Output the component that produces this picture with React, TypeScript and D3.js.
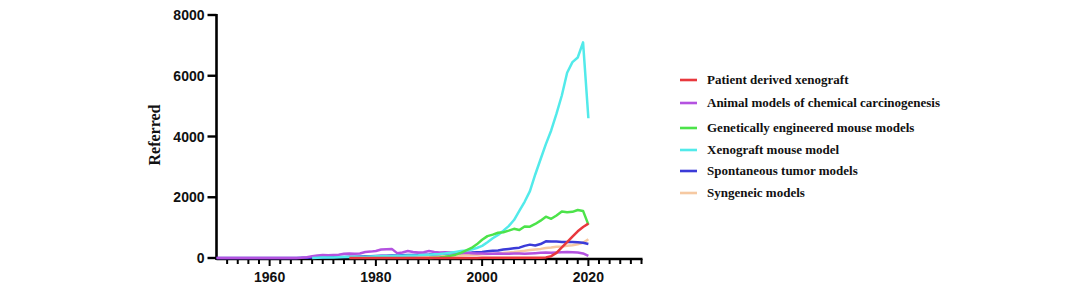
import React from "react";
import * as d3 from "d3";

// ---- data ----
const seriesNames = [
  "Patient derived xenograft",
  "Animal models of chemical carcinogenesis",
  "Genetically engineered mouse models",
  "Xenograft mouse model",
  "Spontaneous tumor models",
  "Syngeneic models",
];
const seriesColors = ["#e8383d", "#b452e0", "#4ce34a", "#52eaea", "#3b3bd8", "#f6c9a2"];

// start years per series
const startYears = [1975, 1950, 1990, 1968, 1950, 1985];

const pdxValues = [
  0, 0, 0, 0, 0, 0, 0, 0, 0, 0, // 1975-1984
  0, 0, 0, 0, 0, 0, 0, 0, 0, 0, // 1985-1994
  0, 0, 0, 0, 0, 5, 5, 5, 5, 10, // 1995-2004
  10, 10, 10, 10, 10, 10, 10, 20, 60, 170, // 2005-2014
  350, 520, 700, 880, 1020, 1130, // 2015-2020
];
const chemValues = [
  0, 0, 0, 0, 0, 0, 0, 0, 0, 0, // 1950-1959
  0, 0, 0, 0, 0, 0, 5, 25, 60, 85, // 1960-1969
  95, 90, 100, 110, 140, 150, 140, 150, 200, 210, // 1970-1979
  230, 280, 290, 300, 160, 180, 230, 200, 180, 190, // 1980-1989
  230, 200, 180, 190, 180, 170, 160, 170, 160, 150, // 1990-1999
  150, 140, 140, 150, 140, 140, 150, 150, 140, 150, // 2000-2009
  160, 170, 180, 170, 180, 190, 200, 190, 180, 150, // 2010-2019
  70, // 2020
];
const gemmValues = [
  0, 10, 20, 40, 70, 110, 170, 250, 330, 450, // 1990-1999
  600, 720, 770, 830, 850, 900, 960, 920, 1040, 1030, // 2000-2009
  1120, 1230, 1360, 1290, 1400, 1530, 1510, 1520, 1580, 1550, // 2010-2019
  1100, // 2020
];
const xenoValues = [
  0, 10, 15, 20, 20, 25, 30, // 1968-1974
  35, 40, 40, 45, 50, 55, 60, 60, 65, 70, // 1975-1984
  75, 80, 85, 90, 100, 110, 120, 130, 150, 170, // 1985-1994
  200, 230, 250, 280, 330, 400, 520, 650, 760, 900, // 1995-2004
  1050, 1250, 1550, 1850, 2200, 2750, 3250, 3750, 4200, 4750, // 2005-2014
  5350, 6100, 6450, 6600, 7100, 4600, // 2015-2020
];
const spontValues = [
  0, 0, 0, 0, 0, 0, 0, 0, 0, 0, // 1950-1959
  0, 0, 0, 0, 0, 0, 5, 10, 15, 20, // 1960-1969
  20, 25, 30, 30, 35, 40, 45, 50, 55, 60, // 1970-1979
  65, 70, 75, 80, 85, 90, 95, 100, 105, 110, // 1980-1989
  115, 125, 135, 145, 155, 165, 170, 175, 180, 190, // 1990-1999
  200, 220, 235, 250, 280, 300, 320, 340, 400, 440, // 2000-2009
  410, 460, 550, 540, 540, 530, 530, 525, 520, 500, // 2010-2019
  460, // 2020
];
const syngValues = [
  10, 20, 25, 30, 35, 40, 45, 55, 60, 70, // 1985-1994
  80, 90, 100, 105, 110, 120, 130, 140, 150, 165, // 1995-2004
  180, 195, 215, 235, 260, 280, 300, 330, 345, 370, // 2005-2014
  380, 400, 420, 450, 500, 620, // 2015-2020
];
const seriesValues = [pdxValues, chemValues, gemmValues, xenoValues, spontValues, syngValues];

const yTicks = [0, 2000, 4000, 6000, 8000];
const xMajorTicks = [1960, 1980, 2000, 2020];
const yLabel = "Referred";

// ---- layout ----
const W = 1080;
const H = 290;
const X0 = 216.5;
const X1 = 641.5;
const Y0 = 259;
const Y1 = 15;
const legendRowY = [80, 103, 128, 150, 171, 193];
const legendX = 680;
const drawOrder = [5, 4, 1, 3, 2, 0];

export default function App() {
  const x = d3.scaleLinear().domain([1950, 2030]).range([X0, X1]);
  const y = d3.scaleLinear().domain([0, 8000]).range([Y0 - 1, Y1]);
  const line = d3
    .line<[number, number]>()
    .x((d) => x(d[0]))
    .y((d) => y(d[1]));

  const minorTicks = d3.range(1952, 2031, 2);

  return (
    <svg
      width={W}
      height={H}
      style={{ position: "absolute", left: 0, top: 0, background: "#fff" }}
    >
      {/* y axis */}
      <line x1={X0} x2={X0} y1={Y1 - 1} y2={Y0 + 1} stroke="#000" strokeWidth={2.6} />
      {yTicks.map((t) => (
        <g key={t}>
          <line x1={X0 - 9} x2={X0} y1={y(t)} y2={y(t)} stroke="#000" strokeWidth={2.4} />
          <text
            x={X0 - 12}
            y={y(t)}
            dy="0.36em"
            textAnchor="end"
            fontFamily="'Liberation Sans', Arial, sans-serif"
            fontWeight="bold"
            fontSize={14}
            fill="#111"
          >
            {t}
          </text>
        </g>
      ))}

      {/* x axis */}
      <line x1={X0} x2={X1 + 1} y1={Y0} y2={Y0} stroke="#000" strokeWidth={2.6} />
      {minorTicks.map((t) => {
        const major = xMajorTicks.includes(t);
        return (
          <line
            key={t}
            x1={x(t)}
            x2={x(t)}
            y1={Y0}
            y2={Y0 + (major ? 7 : 5)}
            stroke="#000"
            strokeWidth={2}
          />
        );
      })}
      {xMajorTicks.map((t) => (
        <text
          key={t}
          x={x(t)}
          y={282}
          textAnchor="middle"
          fontFamily="'Liberation Sans', Arial, sans-serif"
          fontWeight="bold"
          fontSize={14}
          fill="#111"
        >
          {t}
        </text>
      ))}

      {/* series (drawn over the axes, as in the reference) */}
      {drawOrder.map((i) => {
        const pts: [number, number][] = seriesValues[i].map((v, k) => [startYears[i] + k, v]);
        return (
          <path
            key={i}
            d={line(pts) || ""}
            fill="none"
            stroke={seriesColors[i]}
            strokeWidth={2.5}
            strokeLinejoin="round"
          />
        );
      })}

      {/* y label */}
      <text
        transform={`translate(160,135) rotate(-90)`}
        textAnchor="middle"
        fontFamily="'Liberation Serif', 'Times New Roman', serif"
        fontWeight="bold"
        fontSize={16}
        fill="#111"
      >
        {yLabel}
      </text>

      {/* legend */}
      {seriesNames.map((name, i) => (
        <g key={name}>
          <line
            x1={legendX}
            x2={legendX + 17}
            y1={legendRowY[i]}
            y2={legendRowY[i]}
            stroke={seriesColors[i]}
            strokeWidth={2.6}
          />
          <text
            x={legendX + 27}
            y={legendRowY[i]}
            dy="0.33em"
            fontFamily="'Liberation Serif', 'Times New Roman', serif"
            fontWeight="bold"
            fontSize={13}
            fill="#111"
          >
            {name}
          </text>
        </g>
      ))}
    </svg>
  );
}
